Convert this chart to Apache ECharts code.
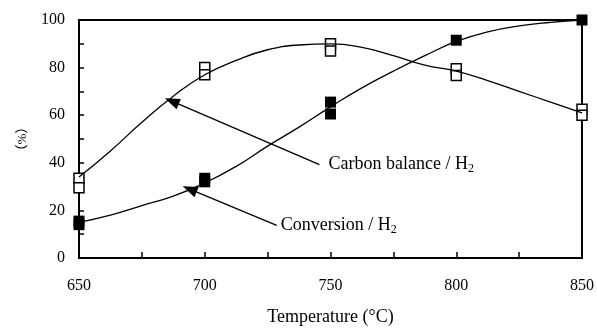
<!DOCTYPE html>
<html>
<head>
<meta charset="utf-8">
<script src="https://cdn.jsdelivr.net/npm/echarts@6/dist/echarts.min.js"></script>
<style>
  html, body { margin: 0; padding: 0; background: #fff; }
  #chart { width: 597px; height: 331px; }
</style>
</head>
<body>
<div id="chart"></div>
<script>
// measured points (replicates at each temperature)
var carbonPts = [[650, 33.5], [650, 29.5], [700, 80], [700, 77], [750, 90], [750, 87], [800, 79.5], [800, 76.7], [850, 62.5], [850, 60]]
var convPts = [[650, 14], [650, 15.5], [700, 32], [700, 33.5], [750, 65.5], [750, 60.5], [800, 91.5], [850, 100]]

// fitted curves
var curveT = [650, 662.5, 675, 687.5, 700, 712.5, 725, 737.5, 750, 762.5, 775, 787.5, 800, 812.5, 825, 837.5, 850]
var carbonCurve = [34, 45, 57, 68, 77, 83, 87.5, 89.5, 90, 88.5, 85, 81, 78.5, 74.5, 70, 65.5, 61]
var convCurve = [15, 18, 22, 26, 31.5, 38.5, 47, 55, 63.5, 71.5, 78.5, 85, 91, 95, 97.5, 99, 100]

// annotation arrows: [tail, tip] in data units
var carbonArrow = [[745.6, 39.2], [686.9, 65.9]]
var convArrow = [[728.6, 13.7], [694, 28.9]]

var font = 'Liberation Serif'

function pairs(xs, ys) {
  return xs.map(function (x, i) { return [x, ys[i]] })
}

function arrowSeries(arr, label, gap) {
  return {
    type: 'scatter',
    symbolSize: 0,
    silent: true,
    data: [arr[0]],
    itemStyle: { opacity: 1 },
    label: {
      show: true, position: 'right', distance: gap, color: '#000',
      formatter: '{a|' + label + ' / H}{s|2}',
      rich: {
        a: { fontFamily: font, fontSize: 18, color: '#000' },
        s: { fontFamily: font, fontSize: 12, color: '#000', padding: [9, 0, 0, 0] }
      }
    },
    markLine: {
      silent: true,
      symbol: ['none', 'triangle'],
      symbolSize: [11, 15],
      label: { show: false },
      lineStyle: { color: '#000', width: 1.3, type: 'solid', opacity: 1 },
      itemStyle: { color: '#000' },
      data: [[{ coord: arr[0] }, { coord: arr[1] }]]
    }
  }
}

var myChart = echarts.init(document.getElementById('chart'))
var option = {
  animation: false,
  grid: { left: 79, right: 14, top: 20, bottom: 68, show: true, borderColor: '#000', borderWidth: 2 },
  xAxis: {
    type: 'value', min: 650, max: 850, interval: 25,
    name: 'Temperature (°C)', nameLocation: 'middle', nameGap: 50,
    nameTextStyle: { fontFamily: font, fontSize: 18, color: '#000' },
    axisLine: { lineStyle: { color: '#000', width: 2 } },
    axisTick: { inside: true, length: 6, lineStyle: { color: '#000', width: 1.5 } },
    axisLabel: {
      fontFamily: font, fontSize: 16, color: '#000', margin: 20,
      formatter: function (v) { return v % 50 === 0 ? v : '' }
    },
    splitLine: { show: false }
  },
  yAxis: {
    type: 'value', min: 0, max: 100, interval: 10,
    name: '（%）', nameLocation: 'middle', nameGap: 50, nameRotate: 90,
    nameTextStyle: { fontFamily: font + ', Noto Sans CJK JP', fontSize: 13, color: '#000' },
    axisLine: { lineStyle: { color: '#000', width: 2 } },
    axisTick: { inside: true, length: 5, lineStyle: { color: '#000', width: 1.5 } },
    axisLabel: {
      fontFamily: font, fontSize: 16, color: '#000', margin: 14,
      formatter: function (v) { return v % 20 === 0 ? v : '' }
    },
    splitLine: { show: false }
  },
  series: [
    {
      type: 'line', smooth: true, showSymbol: false, silent: true,
      data: pairs(curveT, carbonCurve),
      lineStyle: { color: '#000', width: 1.3 }
    },
    {
      type: 'line', smooth: true, showSymbol: false, silent: true,
      data: pairs(curveT, convCurve),
      lineStyle: { color: '#000', width: 1.3 }
    },
    {
      type: 'scatter', symbol: 'rect', symbolSize: 10,
      data: carbonPts,
      itemStyle: { color: '#fff', borderColor: '#000', borderWidth: 1.5, opacity: 1 }
    },
    {
      type: 'scatter', symbol: 'rect', symbolSize: 11,
      data: convPts,
      itemStyle: { color: '#000', opacity: 1 }
    },
    arrowSeries(carbonArrow, 'Carbon balance', 9),
    arrowSeries(convArrow, 'Conversion', 4)
  ]
}
myChart.setOption(option)
</script>
</body>
</html>
